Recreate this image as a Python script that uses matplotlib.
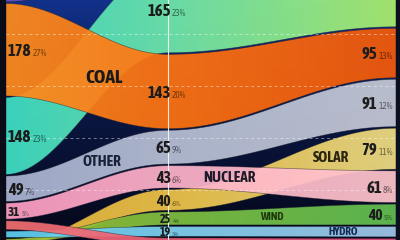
import numpy as np
import matplotlib.pyplot as plt
from matplotlib import font_manager as fm
from matplotlib.colors import LinearSegmentedColormap, to_rgb
from matplotlib.patches import Polygon

# ---------------- data ----------------
years = [2000, 2010, 2024]

top_band = [220, 200, 200]   # purple band, almost entirely above the crop
coal = [178, 143, 95]
gas = [148, 165, 180]
other = [49, 65, 91]
nuclear = [31, 43, 61]
solar = [3, 40, 79]
wind = [8, 25, 40]
hydro = [12, 19, 20]
oil = [17, 16, 15]

coal_pct = [27, 20, 13]
gas_pct = [23, 23, None]
other_pct = [7, 9, 12]
nuclear_pct = [5, 6, 8]
solar_pct = [None, 6, 11]
wind_pct = [None, 4, 5]
hydro_pct = [None, 3, None]

band_names = ['top', 'gas', 'coal', 'other', 'solar', 'nuclear', 'wind', 'hydro', 'oil']
values = {'top': top_band, 'coal': coal, 'gas': gas, 'other': other, 'nuclear': nuclear,
          'solar': solar, 'wind': wind, 'hydro': hydro, 'oil': oil}
shares = {'coal': coal_pct, 'gas': gas_pct, 'other': other_pct, 'nuclear': nuclear_pct,
          'solar': solar_pct, 'wind': wind_pct, 'hydro': hydro_pct}
name_labels = {'coal': 'COAL', 'other': 'OTHER', 'nuclear': 'NUCLEAR', 'solar': 'SOLAR',
               'wind': 'WIND', 'hydro': 'HYDRO'}

# ---------------- style ----------------
colors = {
    'top': ['#6a50c0', '#5c48b0', '#5040a0'],
    'coal': ['#ff8c1c', '#ff7412', '#f55a0a'],
    'gas': ['#3fe0c6', '#70e8aa', '#acf06c'],
    'other': ['#aab4d2', '#b8c0d6', '#c6cad6'],
    'nuclear': ['#ff9ec4', '#ffb2ca', '#ffc6cc'],
    'solar': ['#e8b83c', '#f0c448', '#f0de84'],
    'wind': ['#a4c030', '#80c040', '#62c052'],
    'hydro': ['#5cd0f0', '#7ed2f2', '#a2c8ea'],
    'oil': ['#f27070', '#f0607a', '#e25282'],
}
label_colors = {'coal': '#1a1a1a', 'other': '#1a2238', 'nuclear': '#1e1a2a',
                'solar': '#2a2410', 'wind': '#1c3a0c', 'hydro': '#142a50'}
label_x = {'coal': 2006.1, 'other': 2005.95, 'nuclear': 2013.75, 'solar': 2020.0,
           'wind': 2016.4, 'hydro': 2020.75}
label_size = {'coal': 14, 'other': 11, 'nuclear': 11, 'solar': 11, 'wind': 8, 'hydro': 8}


def weight_num(w):
    return w if isinstance(w, int) else fm.weight_dict.get(w, 400)


# look for a bold narrow / condensed face that happens to be installed
FONT = ['DejaVu Sans']
STRETCH = 'normal'
narrow = [f for f in fm.fontManager.ttflist
          if 'Narrow' in f.name or 'Condensed' in f.name or 'condensed' in str(f.stretch)]
narrow.sort(key=lambda f: (abs(weight_num(f.weight) - 700), f.name))
if narrow:
    FONT = [narrow[0].name, 'DejaVu Sans']
    STRETCH = narrow[0].stretch
    BOLD = narrow[0].weight
else:
    BOLD = 'bold'

BASE = -8
GAP = 3

# ---------------- layout: rank bands at each column ----------------
def stack_column(i):
    pos = {}
    y = BASE
    for v, n in sorted((values[n][i], n) for n in band_names):
        pos[n] = (y, y + v)
        y += v + GAP
    return pos

cols = [stack_column(i) for i in range(len(years))]


def ease(t):
    return (1 - np.cos(np.pi * t)) / 2


def band_curve(name):
    xs, lo, hi = [], [], []
    for i in range(len(years) - 1):
        t = np.linspace(0, 1, 120)
        xs.append(years[i] + (years[i + 1] - years[i]) * t)
        l0, h0 = cols[i][name]
        l1, h1 = cols[i + 1][name]
        lo.append(l0 + (l1 - l0) * ease(t))
        hi.append(h0 + (h1 - h0) * ease(t))
    return np.concatenate(xs), np.concatenate(lo), np.concatenate(hi)


fig = plt.figure(figsize=(4, 2.4), dpi=100)
ax = fig.add_axes([0, 0, 1, 1])
ax.axis('off')

xlim = (years[0] - 0.31, years[-1] + 0.25)
ylim = (4, 4 + 240 / 0.52)

# background
bg = LinearSegmentedColormap.from_list('bg', ['#05081a', '#0a1640', '#12318a'])
ax.imshow(np.linspace(0, 1, 256).reshape(-1, 1), cmap=bg, extent=[*xlim, *ylim],
          aspect='auto', origin='lower', zorder=0)

t_mid = (years[1] - years[0]) / (years[2] - years[0])
grad = np.linspace(0, 1, 400).reshape(1, -1)
curves = {}
for k, n in enumerate(band_names):
    xs, lo, hi = band_curve(n)
    curves[n] = (xs, lo, hi)
    z = 2 + k * 0.1
    verts = np.vstack([np.column_stack([xs, lo]), np.column_stack([xs[::-1], hi[::-1]])])
    patch = Polygon(verts, closed=True, facecolor='none', edgecolor='none', zorder=z)
    ax.add_patch(patch)
    cmap = LinearSegmentedColormap.from_list(n, list(zip([0, t_mid, 1], colors[n])))
    im = ax.imshow(grad, cmap=cmap, extent=[years[0], years[-1], *ylim], aspect='auto',
                   origin='lower', zorder=z, alpha=0.93)
    im.set_clip_path(patch)
    ax.plot(xs, lo, color='#1c1c2c', lw=0.5, alpha=0.55, zorder=z + 0.01)
    ax.plot(xs, hi, color='#1c1c2c', lw=0.5, alpha=0.55, zorder=z + 0.01)

# dashed guides and the middle marker line
for g in [100, 200, 300, 400]:
    ax.axhline(g, color='white', lw=0.7, alpha=0.45, dashes=(3, 3), zorder=4)
ax.axvline(years[1], color='white', lw=0.8, alpha=0.85, zorder=4)

# dark strips on both sides
ax.axvspan(xlim[0], years[0], color='#090c16', zorder=5)
ax.axvspan(years[-1], xlim[1], color='#0a1020', zorder=5)


def darker(c, f=0.5):
    r, g, b = to_rgb(c)
    return (r * f, g * f, b * f)


# value labels
for i, x in enumerate(years):
    for n, sh in shares.items():
        if sh[i] is None:
            continue
        lo, hi = cols[i][n]
        yc = (lo + hi) / 2
        v = values[n][i]
        fs = float(np.interp(v, [25, 45], [8.5, 12]))
        ps = fs * 0.55
        pc = darker(colors[n][i], 0.45)
        kw = dict(textcoords='offset pixels', va='baseline', zorder=6, family=FONT,
                  stretch=STRETCH)
        if i == 2:
            pct = ax.annotate(f'{sh[i]}%', xy=(x, yc), xytext=(-3, -fs / 2), ha='right',
                              size=ps, color=pc, **kw)
            ax.annotate(str(v), xy=(0, yc), xycoords=(pct, 'data'), xytext=(-1, -fs / 2),
                        ha='right', size=fs, color='#1c1c1c', weight=BOLD, **kw)
        else:
            num = ax.annotate(str(v), xy=(x, yc), xytext=(3, -fs / 2),
                              ha='left' if i == 0 else 'right', size=fs, color='#1c1c1c',
                              weight=BOLD, **kw)
            ax.annotate(f'{sh[i]}%', xy=(1, yc), xycoords=(num, 'data'), xytext=(1, -fs / 2),
                        ha='left', size=ps, color=pc, **kw)

# category names placed on their band
for n, txt in name_labels.items():
    xs, lo, hi = curves[n]
    xl = label_x[n]
    yc = (np.interp(xl, xs, lo) + np.interp(xl, xs, hi)) / 2
    ax.text(xl, yc, txt, ha='center', va='center', size=label_size[n], weight=BOLD,
            color=label_colors[n], family=FONT, stretch=STRETCH, zorder=6)

ax.set_xlim(*xlim)
ax.set_ylim(*ylim)
fig.savefig('out.png', dpi=100)
